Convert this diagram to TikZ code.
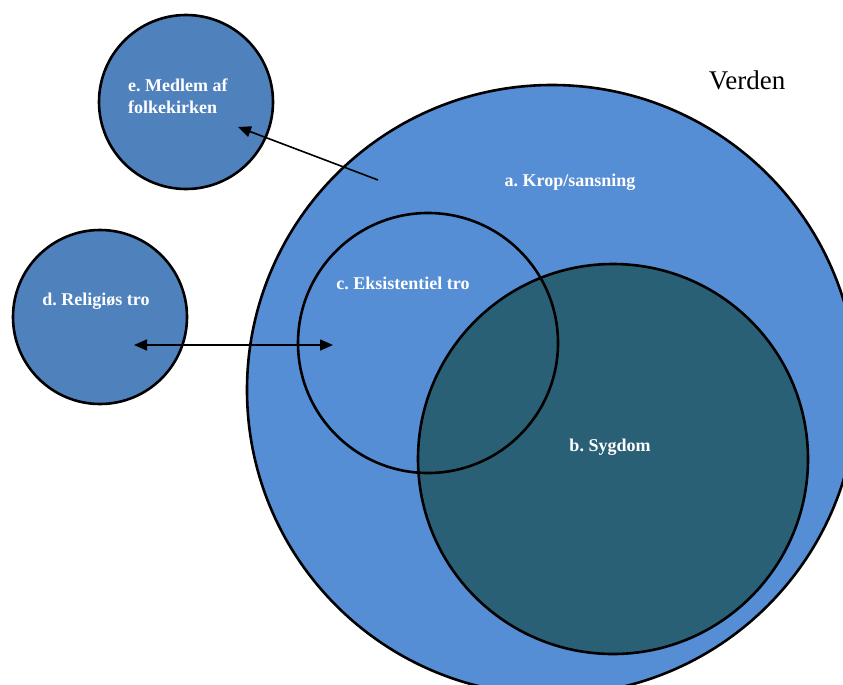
\documentclass[tikz,border=0pt]{standalone}
\usepackage{fontspec}
\setmainfont{Liberation Serif}
\usetikzlibrary{arrows.meta}

\definecolor{skyblue}{RGB}{85,142,213}
\definecolor{steelblue}{RGB}{79,129,189}
\definecolor{deepteal}{RGB}{42,96,117}

\begin{document}
\frenchspacing
\begin{tikzpicture}[x=1pt,y=-1pt,
  ring/.style={circle, draw=black, line width=2.6pt, inner sep=0pt},
  lbl/.style={text=white, font=\bfseries\fontsize{18}{22}\selectfont, inner sep=0pt},
  pil/.style={line width=1.6pt}]
\useasboundingbox (0,0) rectangle (843,685);
\clip (0,0) rectangle (843,685);
%
% the world
\node[ring, fill=skyblue, minimum size=610pt] (a) at (552,390) {};
\node[font=\fontsize{27}{30}\selectfont, inner sep=0pt] (verden) at (747,80) {Verden};
% b and c inside
\node[ring, fill=deepteal, minimum size=390pt] (b) at (613,459) {};
\node[ring, minimum size=260pt] (c) at (428,343) {};
% d and e outside
\node[ring, fill=steelblue, minimum size=174pt] (d) at (100,317) {};
\node[ring, fill=steelblue, minimum size=174pt] (e) at (186,102) {};

% labels
\node[lbl] (alab) at (570,182) {a. Krop/sansning};
\node[lbl] (blab) at (610,447) {b. Sygdom};
\node[lbl] (clab) at (403,283) {c. Eksistentiel tro};
\node[lbl] (dlab) at (96,301) {d. Religiøs tro};
\node[lbl, anchor=west, align=left] (elab) at (128,96) {e. Medlem af\\folkekirken};

% arrows
\coordinate (aout) at (378,180);
\coordinate (ein) at (238,127);
\coordinate (din) at (134,345);
\coordinate (cin) at (333,345);
\draw[pil, -{Triangle[length=13pt,width=11pt]}] (aout) -- (ein);
\draw[pil, {Triangle[length=13pt,width=11pt]}-{Triangle[length=13pt,width=11pt]}] (din) -- (cin);

\end{tikzpicture}
\end{document}
